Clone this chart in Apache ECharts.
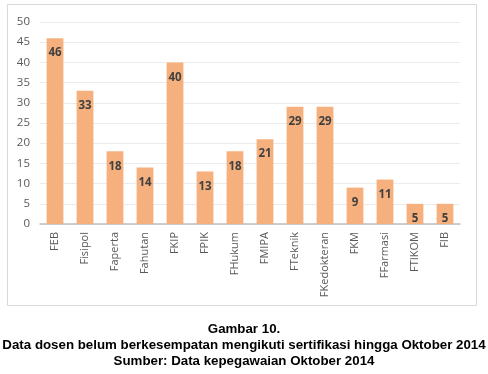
<!DOCTYPE html>
<html><head><meta charset="utf-8">
<script src="https://cdn.jsdelivr.net/npm/echarts@6/dist/echarts.min.js"></script>
<style>html,body{margin:0;padding:0;background:#fff}#c{width:488px;height:374px}</style>
</head><body><div id="c"></div>
<script>
const categories = ["FEB","Fisipol","Faperta","Fahutan","FKIP","FPIK","FHukum","FMIPA","FTeknik","FKedokteran","FKM","FFarmasi","FTIKOM","FIB"];
const values = [46,33,18,14,40,13,18,21,29,29,9,11,5,5];
const yTicks = {min:0, max:50, interval:5};
const captionLines = ["Gambar 10.","Data dosen belum berkesempatan mengikuti sertifikasi hingga Oktober 2014","Sumber: Data kepegawaian Oktober 2014"];

const chart = echarts.init(document.getElementById('c'), null, {renderer:'canvas'});
chart.setOption({
  animation:false,
  backgroundColor:'#fff',
  graphic:[{type:'rect', shape:{x:7.5,y:4.5,width:469,height:301}, style:{fill:'none',stroke:'#D9D9D9',lineWidth:1}, z:-1}],
  title:[{
    text: captionLines.join('\n'),
    left:'center', top:316,
    textStyle:{fontFamily:'Liberation Sans', fontWeight:'bold', fontSize:13.3, color:'#000', lineHeight:16}
  }],
  grid:{left:40, right:28, top:22, bottom:150, containLabel:false},
  xAxis:{type:'category', data:categories,
    axisLine:{lineStyle:{color:'#BFBFBF', width:1.5}},
    axisTick:{show:false},
    axisLabel:{rotate:90, margin:8, color:'#595959', fontFamily:'Open Sans', fontSize:11, interval:0}},
  yAxis:{type:'value', min:yTicks.min, max:yTicks.max, interval:yTicks.interval,
    axisLine:{show:false}, axisTick:{show:false},
    splitLine:{lineStyle:{color:'#EBEBEB'}},
    axisLabel:{color:'#595959', fontFamily:'Open Sans', fontSize:11.5, margin:10}},
  series:[{type:'bar', data:values, barWidth:'56%',
    itemStyle:{color:'#F6B07D'},
    label:{show:true, position:'insideTop', distance:9, color:'#404040', fontWeight:'bold', fontFamily:'Open Sans', fontSize:11.5}}]
});
</script></body></html>
